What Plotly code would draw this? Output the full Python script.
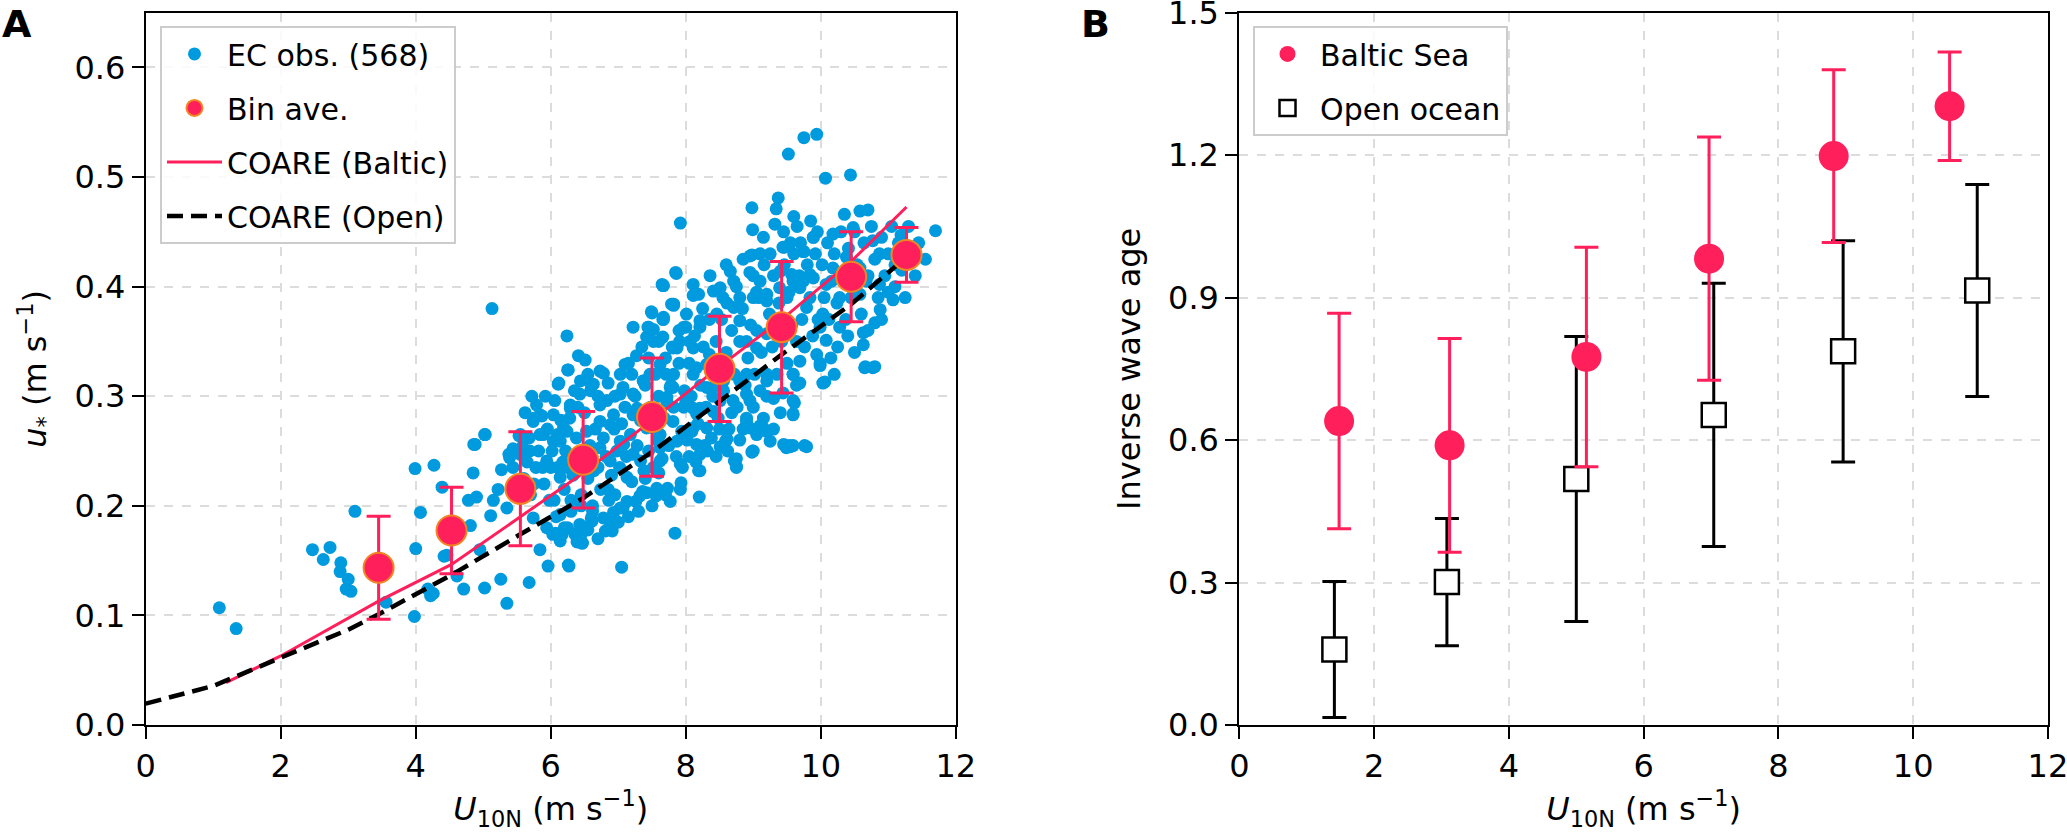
import plotly.graph_objects as go

obs_u = [
    1.09, 1.34, 2.47, 2.73, 2.63, 2.89, 2.88, 3.00, 2.97, 3.04, 3.10, 3.56,
    3.99, 4.27, 4.07, 4.00, 3.98, 4.39, 4.46, 4.61, 4.71, 4.26, 4.81, 4.85,
    4.88, 5.02, 4.78, 4.90, 4.95, 5.11, 5.02, 5.26, 5.35, 5.27, 5.39, 5.44,
    5.53, 5.22, 5.35, 5.69, 5.68, 5.74, 5.87, 6.11, 6.25, 5.74, 5.84, 5.96,
    6.26, 6.03, 6.14, 6.29, 6.19, 6.04, 5.94, 6.14, 6.34, 6.36, 6.39, 4.22,
    4.18, 4.42, 4.58, 5.15, 5.44, 5.38, 5.58, 5.68, 5.84, 5.94, 6.07, 6.14,
    6.44, 6.47, 6.50, 6.60, 6.87, 6.93, 7.07, 7.26, 7.36, 7.56, 7.73, 7.93,
    8.32, 8.59, 8.72, 8.75, 8.99, 9.25, 9.45, 9.55,
    5.13, 4.86, 5.03, 5.55, 5.55, 5.75, 5.84, 5.89, 5.79, 6.04, 6.14, 6.24,
    6.24, 6.41, 6.51, 6.26, 6.12, 6.73, 7.03, 7.10, 7.27, 7.52, 7.66, 7.81,
    7.91, 8.00, 8.11, 8.16, 8.35, 7.71, 7.37, 7.22, 7.07, 6.63, 6.43, 6.29,
    6.83, 6.93, 6.73, 6.53, 7.81, 8.00, 8.21, 8.40, 7.22, 7.42, 7.62, 7.81,
    8.11, 7.03, 6.73, 7.22, 6.43, 7.85, 7.65, 7.81, 7.49, 7.66, 7.22, 7.44,
    7.84, 7.05, 6.27, 6.46, 6.81, 6.91, 6.41, 6.17, 8.20, 8.19, 7.92, 7.77,
    8.98, 8.75, 8.73, 9.49, 9.59, 9.79, 9.59, 9.61, 10.03, 9.69, 10.77, 10.65,
    9.99, 9.20, 9.10, 8.90, 8.51, 8.61, 8.21, 8.16, 8.09, 7.57, 7.42, 7.32,
    7.13, 7.03, 6.93, 6.78, 6.61, 6.43, 6.25, 7.13, 6.88, 6.64, 6.24, 7.08,
    6.88, 6.73, 6.59, 6.44, 6.78, 7.37, 7.72, 7.77, 7.87, 8.11, 8.31, 8.41,
    8.90, 9.20, 9.30, 9.59, 8.90, 8.56, 7.03, 7.28, 7.52, 7.62, 7.33,
    7.92, 9.52, 9.75, 9.94, 10.07, 10.44, 8.98, 9.37, 9.34, 9.60, 8.99, 9.32,
    8.95, 7.86, 7.67, 8.36, 8.66, 8.95, 9.44, 9.74, 9.89, 10.18, 10.35, 10.58,
    10.70, 10.48, 10.77, 10.87, 11.70, 11.19, 11.07, 10.88, 10.80, 10.63, 10.63, 10.66,
    10.80, 10.06, 9.99, 10.08, 10.28, 10.03, 10.28, 10.58, 9.79, 9.59, 9.39, 9.20,
    8.80, 8.51, 8.19, 8.11, 7.82, 7.67, 7.52, 7.42, 7.97, 8.06, 7.87, 8.21,
    8.61, 8.80, 8.90, 9.05, 9.20, 9.64, 9.69, 9.59, 9.44, 9.59, 9.59, 9.20,
    9.10, 8.95, 8.80, 8.70, 8.51, 8.31, 8.11, 8.31, 7.82, 7.62, 7.47, 7.72,
    7.97, 8.16, 8.95, 9.15, 9.00, 8.75, 9.54, 9.49, 9.76, 8.21, 7.92, 7.62,
    9.94, 9.99, 10.18, 10.38, 10.58, 10.67, 10.87, 10.08, 9.89,
    8.98, 9.46, 9.75, 9.89, 7.66, 9.10, 9.40, 9.57, 9.74, 9.84, 7.50, 7.82,
    7.45, 7.67, 8.11, 8.41, 8.71, 8.01, 8.21, 8.46, 8.71, 9.00, 9.20, 9.50,
    9.69, 7.79,
    6.05, 6.10, 6.20, 6.22, 6.30, 6.33, 6.38, 6.45, 6.47, 6.50, 6.55, 6.58,
    6.62, 6.66, 6.70, 6.74, 6.78, 6.82, 6.86, 6.90, 6.94, 6.98, 6.06, 6.35,
    6.60, 6.85, 6.15,
    7.02, 7.05, 7.10, 7.12, 7.18, 7.20, 7.25, 7.28, 7.33, 7.38, 7.40, 7.45,
    7.48, 7.52, 7.55, 7.58, 7.60, 7.65, 7.68, 7.70, 7.75, 7.78, 7.82, 7.86,
    7.90, 7.94, 7.98, 7.15, 7.35, 7.60,
    8.02, 8.05, 8.08, 8.13, 8.18, 8.22, 8.26, 8.30, 8.35, 8.38, 8.42, 8.45,
    8.48, 8.53, 8.56, 8.60, 8.64, 8.68, 8.72, 8.76, 8.80, 8.84, 8.88, 8.92,
    8.96, 8.55, 8.25, 8.40, 8.90,
    9.02, 9.05, 9.08, 9.12, 9.16, 9.20, 9.24, 9.28, 9.30, 9.35, 9.38, 9.42,
    9.46, 9.50, 9.53, 9.57, 9.60, 9.64, 9.68, 9.72, 9.76, 9.80, 9.84, 9.88,
    9.92, 9.96, 9.10, 9.70,
    10.02, 10.05, 10.10, 10.12, 10.16, 10.20, 10.24, 10.30, 10.33, 10.37, 10.41, 10.45,
    10.50, 10.54, 10.60, 10.64, 10.70, 10.75, 10.80, 10.85, 10.90, 10.95, 11.00, 11.05,
    11.10, 11.15, 11.35, 11.40, 11.30,
    5.60, 5.65, 5.70, 5.78, 5.82, 5.90, 5.95, 5.98, 5.62, 5.72, 5.92, 6.00,
    6.08, 6.20, 6.30, 6.55, 6.62, 6.70, 6.95, 7.00, 7.15, 7.30, 7.40, 7.50,
    7.60, 7.70, 6.45, 6.85,
    7.95, 8.05, 8.15, 8.28, 8.45, 8.50, 8.62, 8.80, 8.85, 9.05, 9.15, 9.30,
    9.40, 9.00, 8.68,
    8.60, 8.75, 8.85, 9.00, 9.15, 9.25, 9.45, 9.55, 9.65, 9.85, 9.95, 9.05,
    10.15, 10.25, 10.40, 10.50, 10.70, 10.90, 11.00, 10.20,
    6.70, 6.95, 7.20, 7.45, 7.80, 7.90, 6.55,
    5.75, 5.88, 6.02, 6.10, 6.28, 6.40, 6.18,
    11.10, 11.20, 11.25, 11.45, 11.55,
]
obs_ustar = [
    0.107, 0.088, 0.160, 0.162, 0.151, 0.148, 0.140, 0.133, 0.124, 0.122, 0.195, 0.112,
    0.234, 0.237, 0.194, 0.161, 0.099, 0.217, 0.155, 0.136, 0.124, 0.120, 0.182, 0.230,
    0.256, 0.265, 0.205, 0.208, 0.160, 0.191, 0.125, 0.133, 0.111, 0.233, 0.244, 0.252,
    0.264, 0.215, 0.198, 0.250, 0.130, 0.277, 0.282, 0.311, 0.324, 0.189, 0.160, 0.145,
    0.146, 0.174, 0.192, 0.292, 0.271, 0.259, 0.241, 0.226, 0.241, 0.174, 0.167, 0.118,
    0.124, 0.154, 0.171, 0.205, 0.235, 0.247, 0.254, 0.262, 0.265, 0.180, 0.175, 0.168,
    0.172, 0.166, 0.180, 0.189, 0.180, 0.189, 0.198, 0.204, 0.213, 0.209, 0.216, 0.221,
    0.250, 0.259, 0.241, 0.235, 0.250, 0.259, 0.256, 0.254,
    0.380, 0.256, 0.265, 0.265, 0.247, 0.280, 0.283, 0.265, 0.292, 0.283, 0.259, 0.268,
    0.355, 0.337, 0.333, 0.324, 0.312, 0.323, 0.320, 0.329, 0.337, 0.350, 0.354, 0.344,
    0.350, 0.363, 0.344, 0.326, 0.338, 0.320, 0.314, 0.302, 0.308, 0.311, 0.302, 0.289,
    0.296, 0.283, 0.277, 0.268, 0.308, 0.296, 0.289, 0.308, 0.283, 0.271, 0.265, 0.277,
    0.271, 0.259, 0.253, 0.247, 0.247, 0.413, 0.402, 0.384, 0.377, 0.370, 0.363, 0.363,
    0.175, 0.144, 0.145, 0.166, 0.177, 0.177, 0.175, 0.174, 0.208, 0.232, 0.215, 0.204,
    0.249, 0.236, 0.242, 0.254, 0.255, 0.254, 0.283, 0.294, 0.312, 0.312, 0.326, 0.326,
    0.328, 0.268, 0.273, 0.277, 0.254, 0.261, 0.247, 0.256, 0.268, 0.216, 0.212, 0.209,
    0.204, 0.198, 0.194, 0.189, 0.186, 0.183, 0.180, 0.226, 0.241, 0.232, 0.235, 0.256,
    0.274, 0.292, 0.305, 0.314, 0.321, 0.314, 0.295, 0.308, 0.259, 0.289, 0.271, 0.286,
    0.302, 0.314, 0.298, 0.320, 0.320, 0.314, 0.302, 0.289, 0.271, 0.241, 0.241,
    0.458, 0.521, 0.536, 0.539, 0.499, 0.502, 0.472, 0.481, 0.471, 0.464, 0.452, 0.457,
    0.428, 0.412, 0.401, 0.410, 0.414, 0.413, 0.436, 0.432, 0.445, 0.448, 0.466, 0.469,
    0.470, 0.454, 0.442, 0.430, 0.451, 0.447, 0.388, 0.379, 0.367, 0.358, 0.347, 0.327,
    0.327, 0.313, 0.330, 0.351, 0.363, 0.375, 0.390, 0.393, 0.381, 0.405, 0.399, 0.387,
    0.390, 0.399, 0.393, 0.402, 0.384, 0.372, 0.361, 0.354, 0.363, 0.350, 0.344, 0.369,
    0.385, 0.369, 0.350, 0.344, 0.357, 0.350, 0.332, 0.320, 0.303, 0.296, 0.284, 0.320,
    0.305, 0.296, 0.314, 0.296, 0.296, 0.308, 0.320, 0.329, 0.320, 0.329, 0.320, 0.299,
    0.290, 0.284, 0.271, 0.271, 0.250, 0.243, 0.255, 0.253, 0.255, 0.232, 0.238, 0.253,
    0.338, 0.363, 0.417, 0.427, 0.417, 0.405, 0.402, 0.402, 0.408,
    0.429, 0.436, 0.432, 0.445, 0.401, 0.405, 0.414, 0.411, 0.405, 0.411, 0.376, 0.383,
    0.363, 0.370, 0.392, 0.396, 0.405, 0.375, 0.363, 0.375, 0.381, 0.390, 0.393, 0.390,
    0.399, 0.384,
    0.205, 0.235, 0.215, 0.250, 0.205, 0.228, 0.262, 0.210, 0.240, 0.285, 0.225, 0.255,
    0.200, 0.270, 0.235, 0.215, 0.262, 0.245, 0.205, 0.228, 0.270, 0.250, 0.296, 0.305,
    0.310, 0.312, 0.278,
    0.235, 0.275, 0.290, 0.245, 0.265, 0.222, 0.300, 0.255, 0.278, 0.232, 0.310, 0.250,
    0.290, 0.235, 0.320, 0.260, 0.300, 0.243, 0.280, 0.335, 0.255, 0.310, 0.290, 0.245,
    0.330, 0.268, 0.305, 0.330, 0.345, 0.350,
    0.260, 0.330, 0.300, 0.355, 0.275, 0.310, 0.345, 0.290, 0.370, 0.262, 0.320, 0.350,
    0.280, 0.370, 0.305, 0.340, 0.270, 0.360, 0.320, 0.290, 0.350, 0.380, 0.310, 0.335,
    0.365, 0.390, 0.380, 0.300, 0.280,
    0.320, 0.360, 0.390, 0.340, 0.420, 0.300, 0.375, 0.345, 0.410, 0.320, 0.385, 0.350,
    0.420, 0.330, 0.395, 0.365, 0.430, 0.310, 0.410, 0.370, 0.345, 0.420, 0.390, 0.355,
    0.430, 0.370, 0.430, 0.440,
    0.420, 0.390, 0.440, 0.370, 0.405, 0.430, 0.385, 0.450, 0.410, 0.370, 0.435, 0.390,
    0.450, 0.420, 0.375, 0.440, 0.410, 0.455, 0.425, 0.390, 0.445, 0.410, 0.430, 0.455,
    0.420, 0.440, 0.430, 0.410, 0.455,
    0.225, 0.240, 0.210, 0.235, 0.250, 0.220, 0.270, 0.205, 0.285, 0.300, 0.300, 0.235,
    0.190, 0.180, 0.195, 0.178, 0.195, 0.170, 0.210, 0.185, 0.190, 0.195, 0.225, 0.200,
    0.230, 0.210, 0.200, 0.215,
    0.235, 0.245, 0.240, 0.255, 0.245, 0.270, 0.250, 0.260, 0.270, 0.265, 0.280, 0.270,
    0.285, 0.290, 0.285,
    0.420, 0.400, 0.425, 0.410, 0.445, 0.430, 0.450, 0.440, 0.455, 0.460, 0.450, 0.395,
    0.335, 0.345, 0.355, 0.340, 0.360, 0.370, 0.395, 0.320,
    0.300, 0.300, 0.320, 0.335, 0.345, 0.360, 0.320,
    0.220, 0.235, 0.250, 0.265, 0.280, 0.290, 0.240,
    0.400, 0.415, 0.390, 0.440, 0.425,
]

# bin averages with 1-sd bars
bin_u = [3.45, 4.53, 5.55, 6.48, 7.50, 8.50, 9.42, 10.45, 11.27]
bin_ustar = [0.1435, 0.1775, 0.2155, 0.242, 0.281, 0.325, 0.363, 0.409, 0.429]
bin_sd = [0.047, 0.0395, 0.052, 0.044, 0.054, 0.048, 0.060, 0.041, 0.025]

# COARE curves
baltic_u = [1.19, 2.0, 3.45, 4.53, 5.55, 6.48, 7.50, 8.50, 9.42, 10.45, 11.27]
baltic_ustar = [0.0386, 0.063, 0.113, 0.1465, 0.19, 0.230, 0.278, 0.327, 0.370, 0.423, 0.4727]
open_u = [0.0, 1.0, 2.0, 3.0, 3.45, 4.53, 5.55, 6.48, 7.52, 8.50, 9.42, 10.45, 11.49]
open_ustar = [0.0195, 0.0356, 0.0614, 0.087, 0.101, 0.137, 0.174, 0.207, 0.250, 0.295, 0.338, 0.384, 0.4386]

# ---- panel B: inverse wave age ----
baltic_wind = [1.48, 3.12, 5.15, 6.97, 8.82, 10.54]
baltic_iwa = [0.640, 0.589, 0.775, 0.982, 1.198, 1.303]
baltic_iwa_sd = [0.227, 0.225, 0.231, 0.256, 0.182, 0.114]
open_wind = [1.41, 3.08, 5.00, 7.04, 8.96, 10.95]
open_iwa = [0.159, 0.301, 0.518, 0.653, 0.787, 0.915]
open_iwa_sd = [0.143, 0.134, 0.300, 0.277, 0.233, 0.223]

x_ticks = [0, 2, 4, 6, 8, 10, 12]
ya_ticks = [0.0, 0.1, 0.2, 0.3, 0.4, 0.5, 0.6]
yb_ticks = [0.0, 0.3, 0.6, 0.9, 1.2, 1.5]

RED = "#FF1F5B"
BLUE = "#009ADE"
ORANGE = "#F28522"
FONT = "DejaVu Sans"

fig = go.Figure()

fig.add_trace(go.Scatter(
    x=obs_u, y=obs_ustar, mode="markers", name="EC obs. (568)",
    marker=dict(color=BLUE, size=13), legend="legend", legendrank=1,
    legendgroup="a1", xaxis="x", yaxis="y"))
fig.add_trace(go.Scatter(
    x=baltic_u, y=baltic_ustar, mode="lines", name="COARE (Baltic)",
    line=dict(color=RED, width=3), legend="legend", legendrank=3,
    legendgroup="a3", xaxis="x", yaxis="y"))
fig.add_trace(go.Scatter(
    x=open_u, y=open_ustar, mode="lines", name="COARE (Open)",
    line=dict(color="black", width=4.5, dash="16px,8px"), legend="legend",
    legendrank=4, legendgroup="a4", xaxis="x", yaxis="y"))
fig.add_trace(go.Scatter(
    x=bin_u, y=bin_ustar, mode="markers", name="Bin ave.",
    marker=dict(color=RED, size=30, line=dict(color=ORANGE, width=2)),
    error_y=dict(type="data", array=bin_sd, color=RED, thickness=3, width=12),
    legend="legend", legendrank=2, legendgroup="a2", xaxis="x", yaxis="y"))

fig.add_trace(go.Scatter(
    x=open_wind, y=open_iwa, mode="markers", name="Open ocean",
    marker=dict(symbol="square", color="white", size=24,
                line=dict(color="black", width=2.5)),
    error_y=dict(type="data", array=open_iwa_sd, color="black", thickness=3, width=12),
    legend="legend2", legendrank=2, legendgroup="b2", xaxis="x2", yaxis="y2"))
fig.add_trace(go.Scatter(
    x=baltic_wind, y=baltic_iwa, mode="markers", name="Baltic Sea",
    marker=dict(color=RED, size=30),
    error_y=dict(type="data", array=baltic_iwa_sd, color=RED, thickness=3, width=12),
    legend="legend2", legendrank=1, legendgroup="b1", xaxis="x2", yaxis="y2"))

axis_style = dict(
    showline=True, linecolor="black", linewidth=2, mirror=True,
    ticks="outside", ticklen=12, tickwidth=2, tickcolor="black",
    showgrid=True, gridcolor="#dcdcdc", gridwidth=1.5, griddash="dash",
    zeroline=False, tickfont=dict(family=FONT, size=32, color="black"),
    ticklabeloverflow="allow", automargin=False,
)
title_font = dict(family=FONT, size=32, color="black")
xtitle = "<i>U</i><sub>10N</sub> (m s<sup>\u22121</sup>)"

legend_style = dict(
    xanchor="left", yanchor="top",
    bgcolor="rgba(255,255,255,0.85)", bordercolor="#cccccc", borderwidth=2,
    font=dict(family=FONT, size=30, color="black"),
    traceorder="grouped", tracegroupgap=12, itemwidth=55,
)

fig.update_layout(
    width=2067, height=836,
    margin=dict(l=0, r=0, t=0, b=0),
    paper_bgcolor="white", plot_bgcolor="white",
    font=dict(family=FONT, color="black"),
    xaxis=dict(axis_style, domain=[0.0705, 0.4624], range=[0, 12],
               tickvals=x_ticks,
               title=dict(text=xtitle, font=title_font, standoff=10), anchor="y"),
    yaxis=dict(axis_style, domain=[0.1328, 0.9848], range=[0, 0.65],
               tickvals=ya_ticks, tickformat=".1f",
               title=dict(text="<i>u</i><sub>*</sub> (m s<sup>\u22121</sup>)",
                          font=title_font, standoff=18), anchor="x"),
    xaxis2=dict(axis_style, domain=[0.5996, 0.9908], range=[0, 12],
                tickvals=x_ticks,
                title=dict(text=xtitle, font=title_font, standoff=10), anchor="y2"),
    yaxis2=dict(axis_style, domain=[0.1328, 0.9848], range=[0, 1.5],
                tickvals=yb_ticks, tickformat=".1f",
                title=dict(text="Inverse wave age", font=title_font, standoff=18),
                anchor="x2"),
    legend=dict(legend_style, x=0.0774, y=0.969),
    legend2=dict(legend_style, x=0.6062, y=0.969),
    showlegend=True,
)

fig.add_annotation(text="<b>A</b>", xref="paper", yref="paper", x=0.0, y=1.0,
                   xanchor="left", yanchor="top", showarrow=False,
                   font=dict(family=FONT, size=38, color="black"))
fig.add_annotation(text="<b>B</b>", xref="paper", yref="paper", x=0.522, y=1.0,
                   xanchor="left", yanchor="top", showarrow=False,
                   font=dict(family=FONT, size=38, color="black"))

# drop the default page margin so the figure sits at the window's corner
fig.write_html("out.html", config={"displayModeBar": False},
               post_script="document.body.style.margin='0';document.body.style.overflow='hidden';")
